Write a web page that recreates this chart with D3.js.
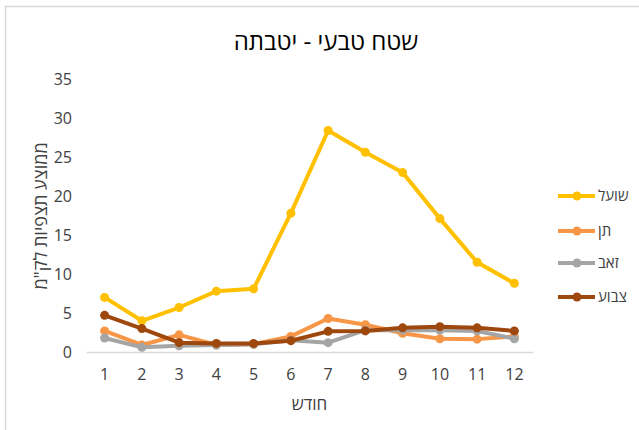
<!DOCTYPE html>
<html>
<head>
<meta charset="utf-8">
<script src="https://cdn.jsdelivr.net/npm/d3@7"></script>
<style>
  html, body { margin: 0; padding: 0; background: #fff; }
  svg { display: block; font-family: "Open Sans", "Noto Sans", "DejaVu Sans", sans-serif; }
</style>
</head>
<body>
<svg id="chart" width="639" height="430"></svg>
<script>
// Monthly mean sightings per km, natural area – Yotvata
const months = [1, 2, 3, 4, 5, 6, 7, 8, 9, 10, 11, 12];
const seriesNames = ["שועל", "תן", "זאב", "צבוע"];
const fox   = [7.0, 4.0, 5.7, 7.8, 8.1, 17.8, 28.4, 25.6, 23.0, 17.1, 11.5, 8.8];
const jackal = [2.7, 0.9, 2.2, 0.9, 1.0, 2.0, 4.3, 3.5, 2.4, 1.7, 1.65, 2.0];
const wolf  = [1.8, 0.6, 0.8, 0.9, 1.0, 1.5, 1.2, 2.8, 2.8, 2.8, 2.7, 1.7];
const hyena = [4.7, 3.0, 1.2, 1.1, 1.1, 1.45, 2.65, 2.7, 3.1, 3.25, 3.1, 2.7];
const yTicks = [0, 5, 10, 15, 20, 25, 30, 35];
const colors = ["#FFC000", "#F79646", "#A5A5A5", "#9E480E"];

const titleText = "שטח טבעי - יטבתה";
const xTitle = "חודש";
const yTitle = "ממוצע תצפיות לק\"מ";

const series = [fox, jackal, wolf, hyena].map((values, i) => ({
  name: seriesNames[i], color: colors[i], values
}));

const svg = d3.select("#chart");

// outer chart frame
svg.append("rect")
  .attr("x", 5.5).attr("y", 6.5)
  .attr("width", 700).attr("height", 500)
  .attr("fill", "#fff")
  .attr("stroke", "#D9D9D9").attr("stroke-width", 1.5);

const plot = { left: 86, right: 533, top: 79, bottom: 352 };

const x = d3.scaleBand().domain(months).range([plot.left, plot.right]);
const y = d3.scaleLinear().domain([0, 35]).range([plot.bottom, plot.top]);
const cx = m => x(m) + x.bandwidth() / 2;

// title
svg.append("text")
  .attr("x", 326).attr("y", 50)
  .attr("text-anchor", "middle")
  .attr("font-size", 24)
  .attr("fill", "#000")
  .text(titleText);

// y axis labels (no axis line)
const yAxis = svg.append("g")
  .attr("transform", `translate(${plot.left},0)`)
  .call(d3.axisLeft(y).tickValues(yTicks).tickSize(0).tickPadding(14));
yAxis.select(".domain").remove();
yAxis.selectAll("text")
  .attr("font-size", 16).attr("fill", "#404040")
  .attr("font-family", "\"Open Sans\", \"Noto Sans\", sans-serif");

// x axis
const xAxis = svg.append("g")
  .attr("transform", `translate(0,${plot.bottom})`)
  .call(d3.axisBottom(x).tickSize(0).tickPadding(17));
xAxis.select(".domain").attr("stroke", "#D9D9D9").attr("stroke-width", 1.5);
xAxis.selectAll("text")
  .attr("font-size", 16).attr("fill", "#404040")
  .attr("font-family", "\"Open Sans\", \"Noto Sans\", sans-serif");

// axis titles
svg.append("text")
  .attr("x", (plot.left + plot.right) / 2).attr("y", 410)
  .attr("text-anchor", "middle")
  .attr("font-size", 17).attr("fill", "#404040")
  .text(xTitle);

svg.append("text")
  .attr("transform", "translate(47,216) rotate(-90)")
  .attr("text-anchor", "middle")
  .attr("font-size", 18).attr("fill", "#404040")
  .text(yTitle);

// lines and markers
const line = d3.line().x((d, i) => cx(months[i])).y(d => y(d));

const g = svg.append("g");
series.forEach(s => {
  const sg = g.append("g");
  sg.append("path")
    .datum(s.values)
    .attr("d", line)
    .attr("fill", "none")
    .attr("stroke", s.color)
    .attr("stroke-width", 4)
    .attr("stroke-linejoin", "round")
    .attr("stroke-linecap", "round");
  sg.selectAll("circle")
    .data(s.values)
    .join("circle")
    .attr("cx", (d, i) => cx(months[i]))
    .attr("cy", d => y(d))
    .attr("r", 4.5)
    .attr("fill", s.color);
});

// legend
const legendRows = [196, 231, 263, 297];
const legend = svg.append("g");
series.forEach((s, i) => {
  const row = legend.append("g").attr("transform", `translate(0,${legendRows[i]})`);
  row.append("line")
    .attr("x1", 558).attr("x2", 595)
    .attr("stroke", s.color).attr("stroke-width", 4);
  row.append("circle")
    .attr("cx", 577).attr("r", 4.5).attr("fill", s.color);
  row.append("text")
    .attr("x", 598).attr("y", 5)
    .attr("font-size", 15).attr("fill", "#404040")
    .text(s.name);
});
</script>
</body>
</html>
